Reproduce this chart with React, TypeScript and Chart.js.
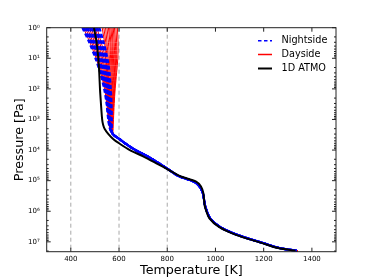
import React, { useEffect, useRef } from "react";
import { Chart, registerables } from "chart.js";

Chart.register(...registerables);

// ---- data ----
const P_UPPER = [1, 3, 10, 30, 100, 300, 1000, 2000];

const NIGHT_UPPER_T = [
  [448, 476, 502, 522, 538, 548, 555, 562],
  [455, 482, 507, 526, 541, 550, 556, 563],
  [463, 488, 512, 530, 544, 552, 558, 564],
  [470, 494, 518, 534, 547, 555, 560, 565],
  [479, 501, 523, 538, 550, 557, 561, 565],
  [487, 508, 529, 543, 553, 559, 563, 566],
  [495, 515, 534, 547, 556, 561, 565, 567],
  [503, 522, 540, 551, 559, 564, 566, 568],
  [511, 529, 546, 556, 562, 566, 568, 569],
  [519, 536, 552, 561, 566, 569, 570, 570],
];

const DAY_BAND_UPPER_T = [
  [452, 479, 505, 524, 540, 549, 556, 562],
  [460, 486, 510, 528, 543, 551, 557, 563],
  [468, 492, 516, 532, 546, 554, 559, 564],
  [476, 499, 521, 537, 549, 556, 561, 565],
  [484, 505, 527, 541, 552, 558, 562, 566],
  [492, 512, 532, 545, 555, 560, 564, 567],
  [500, 519, 538, 549, 558, 563, 566, 568],
  [508, 526, 544, 554, 561, 565, 567, 569],
];

const DAY_FAN_UPPER_T = [
  [530, 540, 545, 550, 552, 555, 557, 562],
  [537, 545, 550, 554, 556, 558, 559, 563],
  [544, 550, 555, 558, 559, 560, 561, 564],
  [550, 556, 560, 562, 563, 563, 563, 566],
  [556, 562, 565, 566, 566, 566, 565, 567],
  [561, 566, 569, 570, 569, 568, 567, 568],
  [566, 571, 573, 574, 572, 570, 569, 570],
  [571, 575, 577, 578, 575, 572, 571, 571],
  [576, 580, 582, 581, 578, 574, 572, 572],
  [581, 585, 586, 584, 580, 576, 574, 573],
  [587, 590, 590, 587, 582, 578, 575, 574],
  [593, 596, 595, 590, 584, 580, 577, 575],
];

const P_DEEP = [3000, 4500, 6000, 1e4, 1.6e4, 2.7e4, 4.2e4, 7e4, 1.07e5, 1.55e5, 2.6e5, 5.5e5, 8e5, 1.7e6, 3.3e6, 5.9e6, 1.1e7, 1.6e7, 1.95e7];
const NIGHT_DEEP_T = [574, 604, 625, 668, 718, 765, 803, 846, 910, 934, 948, 955, 960, 978, 1020, 1090, 1198, 1265, 1338];
const DAY_DEEP_T = [576, 606, 627, 670, 720, 766, 803, 848, 912, 936, 949, 956, 961, 977, 1019, 1091, 1199, 1266, 1341];

const ATMO_P = [1, 3, 10, 30, 100, 300, 1000, 1500, 2000, 3000, 4500, 6000, 1e4, 1.6e4, 2.7e4, 4.2e4, 7e4, 1.07e5, 1.55e5, 2.6e5, 5.5e5, 8e5, 1.7e6, 3.3e6, 5.9e6, 1.1e7, 1.6e7, 1.95e7];
const ATMO_T = [496, 507, 514, 518, 521, 525, 530, 534, 540, 556, 578, 600, 645, 700, 755, 800, 851, 920, 940, 950, 954, 958, 975, 1016, 1085, 1194, 1260, 1332];

const VLINES_T = [400, 600, 800];
const X_MIN = 300;
const X_MAX = 1500;
const Y_MIN = 1;
const Y_MAX = 2.1e7;
const X_TICKS = [400, 600, 800, 1000, 1200, 1400];
const Y_TICK_EXP = [0, 1, 2, 3, 4, 5, 6, 7];
const SUP = ["⁰", "¹", "²", "³", "⁴", "⁵", "⁶", "⁷"];
const LEGEND_LABELS = ["Nightside", "Dayside", "1D ATMO"];

const FONT = "'DejaVu Sans', sans-serif";

const framePlugin = {
  id: "frameTicksLegend",
  afterDatasetsDraw(chart: any) {
    const { ctx, chartArea: a, scales } = chart;
    const xs = scales.x;
    const ys = scales.y;
    ctx.save();
    ctx.strokeStyle = "#222";
    ctx.lineWidth = 1;
    ctx.setLineDash([]);
    ctx.strokeRect(a.left, a.top, a.right - a.left, a.bottom - a.top);
    ctx.beginPath();
    X_TICKS.forEach((v) => {
      const px = xs.getPixelForValue(v);
      ctx.moveTo(px, a.bottom);
      ctx.lineTo(px, a.bottom - 4);
      ctx.moveTo(px, a.top);
      ctx.lineTo(px, a.top + 4);
    });
    Y_TICK_EXP.forEach((e) => {
      const py = ys.getPixelForValue(Math.pow(10, e));
      ctx.moveTo(a.left, py);
      ctx.lineTo(a.left + 4, py);
      ctx.moveTo(a.right, py);
      ctx.lineTo(a.right - 4, py);
      for (let m = 2; m <= 9; m++) {
        const v = m * Math.pow(10, e);
        if (v > Y_MAX) break;
        const pm = ys.getPixelForValue(v);
        ctx.moveTo(a.left, pm);
        ctx.lineTo(a.left + 2, pm);
        ctx.moveTo(a.right, pm);
        ctx.lineTo(a.right - 2, pm);
      }
    });
    ctx.stroke();

    // legend
    const styles = [
      { color: "#0000ff", dash: [3.5, 2.5], width: 1.6 },
      { color: "#ff0000", dash: [], width: 1.5 },
      { color: "#000000", dash: [], width: 2 },
    ];
    const yc = [40.7, 54.5, 68.5];
    LEGEND_LABELS.forEach((lab, i) => {
      const s = styles[i];
      ctx.beginPath();
      ctx.strokeStyle = s.color;
      ctx.lineWidth = s.width;
      ctx.setLineDash(s.dash);
      ctx.moveTo(258, yc[i]);
      ctx.lineTo(272, yc[i]);
      ctx.stroke();
      ctx.setLineDash([]);
      ctx.fillStyle = "#000";
      ctx.font = `9.7px ${FONT}`;
      ctx.textAlign = "left";
      ctx.textBaseline = "middle";
      ctx.fillText(lab, 281.5, yc[i]);
    });
    ctx.restore();
  },
};

export default function App() {
  const ref = useRef<HTMLCanvasElement>(null);
  useEffect(() => {
    if (!ref.current) return;
    const datasets: any[] = [];
    datasets.push({
      label: "1D ATMO",
      data: ATMO_P.map((p, i) => ({ x: ATMO_T[i], y: p })),
      borderColor: "#000000",
      borderWidth: 2,
      pointRadius: 0,
      tension: 0.3,
    });
    NIGHT_UPPER_T.forEach((row) => {
      datasets.push({
        label: "Nightside",
        data: [
          ...P_UPPER.map((p, i) => ({ x: row[i], y: p })),
          ...P_DEEP.map((p, i) => ({ x: NIGHT_DEEP_T[i], y: p })),
        ],
        borderColor: "#0000ff",
        borderDash: [4, 2.5],
        borderWidth: 2.1,
        pointRadius: 0,
        tension: 0.3,
      });
    });
    [...DAY_BAND_UPPER_T, ...DAY_FAN_UPPER_T].forEach((row) => {
      datasets.push({
        label: "Dayside",
        data: [
          ...P_UPPER.map((p, i) => ({ x: row[i], y: p })),
          ...P_DEEP.map((p, i) => ({ x: DAY_DEEP_T[i], y: p })),
        ],
        borderColor: "#ff0000",
        borderWidth: 1,
        pointRadius: 0,
        tension: 0.3,
      });
    });
    VLINES_T.forEach((t) => {
      datasets.push({
        label: "vline",
        data: [
          { x: t, y: Y_MIN },
          { x: t, y: Y_MAX },
        ],
        borderColor: "#a8a8a8",
        borderDash: [4, 3],
        borderWidth: 1,
        pointRadius: 0,
      });
    });

    const chart = new Chart(ref.current, {
      type: "line",
      data: { datasets },
      options: {
        animation: false,
        responsive: false,
        events: [],
        layout: { padding: { top: 27.7, right: 38, left: 0, bottom: 0 } },
        plugins: { legend: { display: false }, tooltip: { enabled: false } },
        scales: {
          x: {
            type: "linear",
            min: X_MIN,
            max: X_MAX,
            grid: { display: false, drawTicks: false },
            border: { display: false },
            afterBuildTicks: (s: any) => {
              s.ticks = X_TICKS.map((v) => ({ value: v }));
            },
            afterFit: (s: any) => {
              s.height = 28.3;
            },
            ticks: {
              padding: 2.8,
              color: "#000",
              font: { family: FONT, size: 7 },
              maxRotation: 0,
              autoSkip: false,
              callback: (v: any) => String(v),
            },
            title: {
              display: true,
              text: "Temperature [K]",
              color: "#000",
              font: { family: FONT, size: 12.7 },
              padding: { top: 0, bottom: 1.7 },
            },
          },
          y: {
            type: "logarithmic",
            reverse: true,
            min: Y_MIN,
            max: Y_MAX,
            grid: { display: false, drawTicks: false },
            border: { display: false },
            afterBuildTicks: (s: any) => {
              s.ticks = Y_TICK_EXP.map((e) => ({ value: Math.pow(10, e) }));
            },
            afterFit: (s: any) => {
              s.width = 46.7;
            },
            ticks: {
              padding: 7,
              color: "#000",
              font: { family: FONT, size: 7 },
              autoSkip: false,
              callback: (v: any) => {
                const e = Math.round(Math.log10(Number(v)));
                return "10" + SUP[e];
              },
            },
            title: {
              display: true,
              text: "Pressure [Pa]",
              color: "#000",
              font: { family: FONT, size: 12.7 },
              padding: { top: 12.4, bottom: 0 },
            },
          },
        },
      },
      plugins: [framePlugin],
    } as any);
    return () => chart.destroy();
  }, []);
  return (
    <div style={{ position: "fixed", left: 0, top: 0, width: 374, height: 280, background: "#fff" }}>
      <canvas ref={ref} width={374} height={280} style={{ display: "block" }} />
    </div>
  );
}
